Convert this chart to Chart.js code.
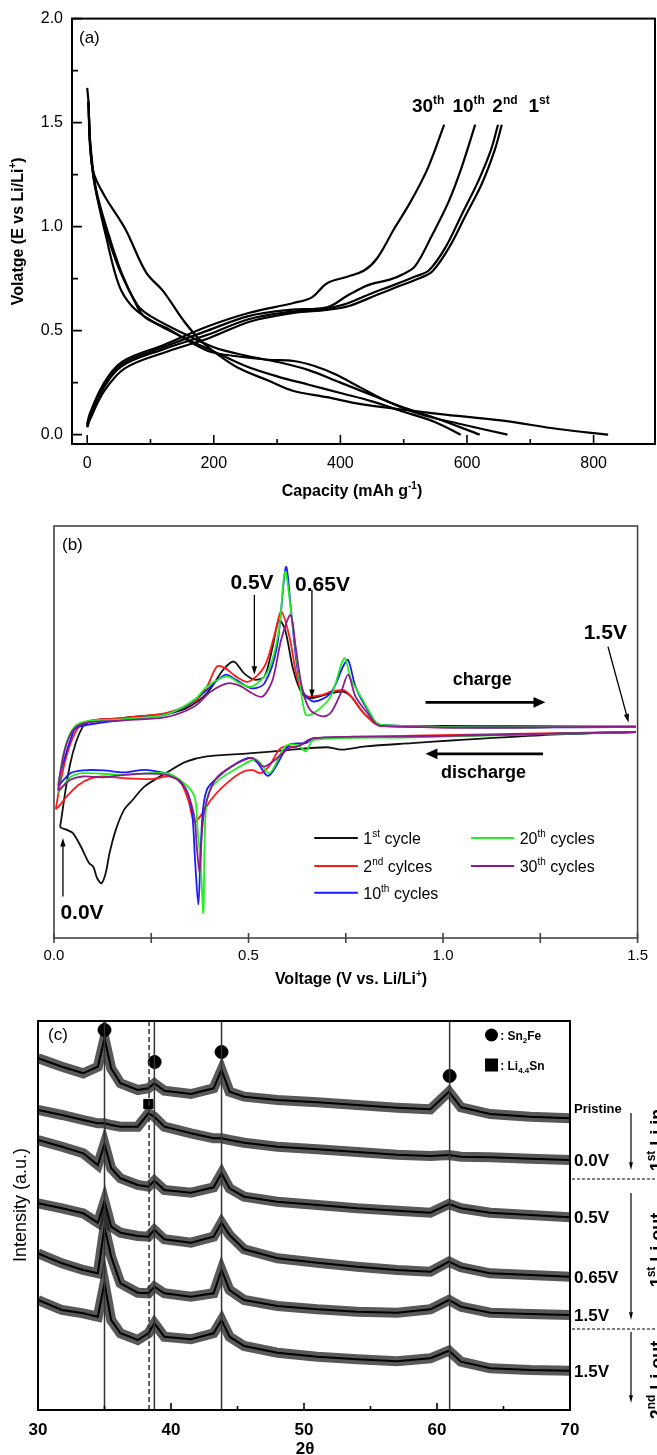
<!DOCTYPE html>
<html>
<head>
<meta charset="utf-8">
<script src="https://cdn.jsdelivr.net/npm/chart.js@4.4.0/dist/chart.umd.min.js"></script>
<style>
  body { margin: 0; background: #fff; width: 657px; height: 1455px; overflow: hidden; position: relative; }
  canvas { position: absolute; left: 0; }
</style>
</head>
<body>
<canvas id="chartA" width="657" height="500" style="top:0"></canvas>
<canvas id="chartB" width="657" height="500" style="top:500px"></canvas>
<canvas id="chartC" width="657" height="455" style="top:1000px"></canvas>
<script>
// ---------- (a) charge / discharge profiles: [capacity mAh/g, voltage V] ----------
const discharge1st = [[0,1.667],[2,1.6],[4,1.41],[10,1.26],[27,1.15],[60,0.99],[93,0.78],[120,0.69],[153,0.545],[180,0.45],[206,0.386],[239,0.32],[286,0.26],[326,0.21],[379,0.18],[432,0.147],[491,0.123],[558,0.099],[657,0.067],[744,0.027],[823,0]];
const discharge2nd = [[2,1.6],[5,1.4],[14,1.18],[34,0.96],[54,0.78],[80,0.61],[93,0.56],[127,0.51],[160,0.45],[193,0.40],[233,0.378],[286,0.36],[326,0.354],[359,0.33],[392,0.29],[432,0.226],[472,0.163],[525,0.099],[591,0.05],[664,0]];
const discharge10th = [[2,1.6],[5,1.38],[12,1.2],[30,0.98],[50,0.8],[80,0.62],[100,0.57],[150,0.49],[200,0.42],[250,0.38],[300,0.35],[350,0.31],[400,0.25],[450,0.19],[500,0.13],[550,0.08],[620,0]];
const discharge30th = [[2,1.6],[5,1.38],[12,1.2],[30,0.95],[50,0.72],[70,0.62],[100,0.55],[150,0.47],[200,0.40],[250,0.33],[300,0.28],[350,0.24],[400,0.2],[450,0.16],[500,0.11],[550,0.06],[590,0]];
const charge1st = [[0,0.035],[4,0.07],[27,0.21],[60,0.32],[127,0.40],[193,0.465],[259,0.545],[326,0.585],[379,0.60],[412,0.617],[458,0.672],[491,0.712],[525,0.752],[545,0.784],[571,0.896],[598,1.055],[624,1.21],[644,1.37],[655,1.49]];
const charge2nd = [[0,0.04],[4,0.08],[25,0.22],[55,0.33],[120,0.41],[190,0.48],[255,0.555],[320,0.59],[375,0.605],[405,0.625],[450,0.68],[485,0.72],[518,0.76],[540,0.79],[566,0.9],[592,1.06],[618,1.22],[638,1.37],[649,1.49]];
const charge10th = [[0,0.045],[4,0.09],[25,0.23],[55,0.34],[120,0.42],[190,0.50],[255,0.57],[320,0.60],[379,0.612],[412,0.67],[445,0.72],[478,0.745],[498,0.77],[518,0.81],[545,0.96],[571,1.12],[591,1.28],[613,1.49]];
const charge30th = [[0,0.05],[4,0.1],[25,0.24],[55,0.35],[120,0.43],[190,0.52],[255,0.585],[326,0.633],[355,0.66],[379,0.728],[412,0.76],[438,0.79],[458,0.848],[485,0.99],[511,1.12],[538,1.28],[564,1.49]];
const cycleTags = [['30','th'],['10','th'],['2','nd'],['1','st']];
const cycleTagCap = [513, 577, 640, 697];
const capTicks = [0, 200, 400, 600, 800];
const capMinor = [100, 300, 500, 700];
const voltTicksA = [0, 0.5, 1.0, 1.5, 2.0];
const voltMinorA = [0.25, 0.75, 1.25, 1.75];

// ---------- (b) differential capacity loops: [voltage V, dQ/dV (a.u.)] ----------
const cycle1 = [[1.496,50.0],[1.25,49.2],[1.03,48.0],[0.92,47.3],[0.80,46.5],[0.74,45.7],[0.70,46.3],[0.6,45.6],[0.50,44.8],[0.393,44.1],[0.34,42.8],[0.287,40.0],[0.233,36.8],[0.202,33.5],[0.180,31.1],[0.159,26.3],[0.143,20.7],[0.133,15.8],[0.122,13.3],[0.111,14.5],[0.101,17.3],[0.090,18.2],[0.069,22.2],[0.048,25.5],[0.032,26.3],[0.016,27.1],
  [0.074,51.3],[0.18,53.4],[0.287,54.4],[0.34,55.8],[0.393,59.4],[0.435,65.1],[0.462,67.1],[0.488,64.3],[0.515,62.7],[0.541,63.5],[0.562,70.7],[0.578,77.2],[0.594,74.8],[0.615,65.1],[0.637,59.4],[0.658,58.2],[0.711,59.4],[0.743,59.8],[0.764,58.6],[0.796,54.6],[0.838,51.7],[1.0,51.5],[1.2,51.4],[1.496,51.3]];
const cycle2 = [[1.496,50.0],[0.923,49.1],[0.668,48.4],[0.626,46.5],[0.584,46.2],[0.552,41.6],[0.531,40.0],[0.509,40.8],[0.478,40.0],[0.435,36.8],[0.403,33.5],[0.382,30.3],[0.361,28.3],[0.345,33.5],[0.324,38.0],[0.297,39.2],[0.255,38.6],[0.18,38.8],[0.127,39.2],[0.096,38.8],[0.064,37.2],[0.037,34.8],[0.005,31.5],
  [0.064,51.3],[0.18,53.4],[0.287,54.6],[0.361,57.4],[0.393,61.0],[0.419,65.9],[0.44,65.5],[0.467,63.5],[0.499,62.2],[0.541,65.9],[0.568,74.0],[0.584,79.2],[0.605,73.2],[0.626,62.7],[0.647,58.8],[0.69,59.0],[0.711,59.8],[0.743,60.2],[0.764,58.6],[0.796,54.6],[0.838,51.5],[1.496,51.3]];
const cycle10 = [[1.496,50.0],[0.923,48.9],[0.668,48.5],[0.647,47.3],[0.605,46.9],[0.552,39.4],[0.52,42.8],[0.499,43.7],[0.456,41.6],[0.414,38.4],[0.393,36.0],[0.382,30.3],[0.376,18.2],[0.371,8.1],[0.363,18.2],[0.355,30.3],[0.34,36.0],[0.308,39.2],[0.287,40.0],[0.233,40.8],[0.18,40.2],[0.127,40.7],[0.074,40.7],[0.042,40.0],[0.011,37.2],
  [0.048,49.7],[0.064,51.3],[0.18,53.0],[0.287,54.2],[0.35,57.0],[0.393,60.2],[0.44,63.9],[0.467,62.7],[0.509,60.6],[0.541,61.8],[0.573,70.7],[0.596,90.0],[0.61,78.8],[0.626,65.1],[0.642,59.4],[0.668,57.4],[0.711,59.4],[0.743,65.9],[0.756,67.5],[0.775,61.0],[0.806,55.4],[0.838,51.7],[1.496,51.2]];
const cycle20 = [[1.496,50.0],[0.923,48.7],[0.668,48.1],[0.647,45.3],[0.626,46.9],[0.594,46.5],[0.554,40.0],[0.52,43.3],[0.478,41.6],[0.414,37.6],[0.393,33.5],[0.387,22.2],[0.384,6.1],[0.377,18.2],[0.369,26.3],[0.361,34.4],[0.329,38.0],[0.287,40.0],[0.18,39.6],[0.074,40.0],[0.042,39.0],[0.011,35.6],
  [0.053,51.3],[0.18,53.1],[0.287,54.2],[0.361,57.8],[0.393,61.0],[0.444,63.5],[0.478,61.8],[0.509,61.0],[0.552,65.1],[0.578,74.8],[0.594,88.9],[0.61,78.8],[0.631,62.7],[0.647,54.2],[0.668,54.6],[0.711,58.6],[0.746,67.9],[0.764,62.7],[0.796,57.4],[0.808,55.4],[0.838,51.7],[1.496,51.3]];
const cycle30 = [[1.496,50.0],[0.923,48.9],[0.668,48.5],[0.626,46.5],[0.605,46.1],[0.541,41.6],[0.509,43.7],[0.456,41.6],[0.414,38.4],[0.387,31.1],[0.378,22.2],[0.374,15.8],[0.367,22.2],[0.359,30.3],[0.329,37.6],[0.287,39.6],[0.233,39.9],[0.18,39.6],[0.127,39.0],[0.074,39.2],[0.042,38.4],[0.011,36.0],
  [0.053,50.9],[0.18,52.8],[0.287,53.6],[0.361,56.2],[0.403,59.8],[0.446,61.8],[0.478,61.2],[0.509,59.4],[0.536,58.6],[0.562,62.7],[0.584,72.4],[0.608,78.4],[0.621,70.7],[0.637,61.0],[0.658,55.4],[0.69,53.8],[0.711,54.6],[0.737,59.4],[0.756,63.9],[0.775,58.6],[0.806,54.6],[0.838,51.5],[1.496,51.3]];
const cycleNames = [[['1',''],['st','sup'],[' cycle','']], [['2',''],['nd','sup'],[' cylces','']], [['10',''],['th','sup'],[' cycles','']], [['20',''],['th','sup'],[' cycles','']], [['30',''],['th','sup'],[' cycles','']]];
const cycleColors = ['#111111', '#ff1a1a', '#1a1aff', '#22ee22', '#8b1c8b'];
const voltTicksB = [0, 0.5, 1.0, 1.5];
const voltMinorB = [0.25, 0.75, 1.25];

// ---------- (c) XRD patterns: 2theta vs intensity (a.u.) ----------
const xrdAngles = [30,31.8,33.4,34.5,35.0,35.5,36.2,37.5,38.3,38.75,39.5,41.5,43.2,43.8,44.4,45.5,48,51,54,57,59.5,60.9,61.8,64,67,70];
const xrdPristine = [351.7,343.3,336.7,343.3,371.7,341.7,326.7,320,321.7,326.7,319.3,316,321.7,340,318.3,313.3,310,307.7,305,302.3,300.7,318.3,302.7,296,293.3,291.7];
const xrd00V = [300,295,290,286.7,286.7,285,283.3,283.3,296.7,293.3,283.3,276.7,271.7,271.7,270,267.3,263.3,260.7,258,255.3,254,255,253.3,252.7,251.3,250];
const xrd05V = [270,263.3,256.7,245,266,241.7,231.7,225,223.3,229.3,220,217.3,222.7,236.7,221.7,213.3,208.3,205,201.7,199.3,197.3,206,201.7,197.3,195,192.7];
const xrd065V = [206.7,201.7,196.7,187.3,208.3,183.3,177.3,174,173.3,180,170.7,167.3,173.3,187.3,175,160.7,151.7,147.3,143.3,140,138.3,148.3,142.7,136.7,135,133.3];
const xrd15V = [156.7,146.7,140,136.7,182.7,153.3,126.7,117.3,116.7,123.3,116.7,113.3,116.7,140,120,110,104,100.7,98.3,97.3,100.7,110,103.3,97.3,96,95];
const xrd15V2 = [110,100,96.7,93.3,126.7,90,76.7,70,76.7,86.7,73.3,70.7,76.7,90,73.3,64,57.3,53.3,50.7,48.7,51.7,59.3,48.3,41.7,40,39.3];
const xrdLabels = ['Pristine', '0.0V', '0.5V', '0.65V', '1.5V', '1.5V'];
const sn2feAngles = [35.0, 38.77, 43.8, 60.95];
const sn2feMarks = [380, 348, 358, 334];
const li44snAngles = [38.3];
const li44snMarks = [306];
const refLines = [35.0, 38.75, 43.8, 60.95];
const refDashed = [38.35];
const thetaTicks = [30, 40, 50, 60, 70];
const thetaMinor = [35, 45, 55, 65];

const FONT = "'Liberation Sans', Arial, Helvetica, sans-serif";
Chart.defaults.font.family = FONT;
Chart.defaults.color = '#000';

function drawRich(ctx, x, y, parts, size, weight, align) {
  let w = 0;
  const items = parts.map(([t, k]) => {
    const s = k ? Math.round(size * 0.64) : size;
    ctx.font = `${weight} ${s}px ${FONT}`;
    const tw = ctx.measureText(t).width;
    w += tw;
    return { t, k, s, tw };
  });
  let cx = align === 'center' ? x - w / 2 : align === 'right' ? x - w : x;
  ctx.textAlign = 'left';
  ctx.textBaseline = 'alphabetic';
  items.forEach(it => {
    ctx.font = `${weight} ${it.s}px ${FONT}`;
    const dy = it.k === 'sup' ? -size * 0.42 : it.k === 'sub' ? size * 0.28 : 0;
    ctx.fillText(it.t, cx, y + dy);
    cx += it.tw;
  });
}

function vText(ctx, x, y, parts, size, weight) {
  ctx.save();
  ctx.translate(x, y);
  ctx.rotate(-Math.PI / 2);
  drawRich(ctx, 0, 0, parts, size, weight, 'center');
  ctx.restore();
}

function arrow(ctx, x1, y1, x2, y2, lw, head, spread) {
  const a = Math.atan2(y2 - y1, x2 - x1);
  ctx.lineWidth = lw;
  ctx.beginPath();
  ctx.moveTo(x1, y1);
  ctx.lineTo(x2 - Math.cos(a) * head * 0.7, y2 - Math.sin(a) * head * 0.7);
  ctx.stroke();
  ctx.beginPath();
  ctx.moveTo(x2, y2);
  ctx.lineTo(x2 - head * Math.cos(a - spread), y2 - head * Math.sin(a - spread));
  ctx.lineTo(x2 - head * Math.cos(a + spread), y2 - head * Math.sin(a + spread));
  ctx.closePath();
  ctx.fill();
}

function tickX(chart, values, len, cross) {
  const { ctx, chartArea: a } = chart, sx = chart.scales.x;
  ctx.beginPath();
  values.forEach(v => {
    const p = sx.getPixelForValue(v);
    ctx.moveTo(p, a.bottom + (cross ? len : 0));
    ctx.lineTo(p, a.bottom - len);
  });
  ctx.stroke();
}

function tickY(chart, values, len) {
  const { ctx, chartArea: a } = chart, sy = chart.scales.y;
  ctx.beginPath();
  values.forEach(v => {
    const p = sy.getPixelForValue(v);
    ctx.moveTo(a.left, p);
    ctx.lineTo(a.left + len, p);
  });
  ctx.stroke();
}

const toXY = arr => arr.map(([x, y]) => ({ x, y }));
const baseOpts = { responsive: false, animation: false, events: [], plugins: { legend: { display: false }, tooltip: { enabled: false } } };
const hiddenGrid = { display: false, drawTicks: false };

// ---------------- chart (a) ----------------
const profiles = [discharge1st, discharge2nd, discharge10th, discharge30th, charge1st, charge2nd, charge10th, charge30th];

new Chart(document.getElementById('chartA'), {
  type: 'line',
  data: {
    datasets: profiles.map(p => ({ data: toXY(p), borderColor: '#000', borderWidth: 2.2, pointRadius: 0, tension: 0.35, fill: false }))
  },
  options: {
    ...baseOpts,
    layout: { padding: { left: 0, right: 2, top: 16, bottom: 0 } },
    scales: {
      x: {
        type: 'linear', min: -24, max: 897,
        grid: hiddenGrid, border: { display: false },
        afterFit: s => { s.height = 56; },
        afterBuildTicks: s => { s.ticks = capTicks.map(v => ({ value: v })); },
        ticks: { padding: 10, font: { size: 16 }, maxRotation: 0, autoSkip: false }
      },
      y: {
        type: 'linear', min: -0.045, max: 2.0,
        grid: hiddenGrid, border: { display: false },
        afterFit: s => { s.width = 72; },
        afterBuildTicks: s => { s.ticks = voltTicksA.map(v => ({ value: v })); },
        ticks: { padding: 9, font: { size: 16 }, callback: v => v.toFixed(1) }
      }
    }
  },
  plugins: [{
    id: 'frameA',
    afterDraw(chart) {
      const { ctx, chartArea: a, scales } = chart;
      ctx.save();
      ctx.strokeStyle = '#000';
      ctx.fillStyle = '#000';
      ctx.lineWidth = 2;
      ctx.strokeRect(a.left, a.top, a.right - a.left, a.bottom - a.top);
      ctx.lineWidth = 1.6;
      tickX(chart, capTicks, 9);
      tickX(chart, capMinor, 5);
      tickY(chart, voltTicksA, 10);
      tickY(chart, voltMinorA, 6);
      ctx.font = `17px ${FONT}`;
      ctx.textAlign = 'left';
      ctx.fillText('(a)', a.left + 7, a.top + 24);
      cycleTags.forEach((tag, i) => {
        drawRich(ctx, scales.x.getPixelForValue(cycleTagCap[i]), scales.y.getPixelForValue(1.553), [[tag[0], ''], [tag[1], 'sup']], 19, 'bold', 'left');
      });
      vText(ctx, 23, (a.top + a.bottom) / 2, [['Volatge (E vs Li/Li', ''], ['+', 'sup'], [')', '']], 16, 'bold');
      drawRich(ctx, 352, 496, [['Capacity (mAh g', ''], ['-1', 'sup'], [')', '']], 16, 'bold', 'center');
      ctx.restore();
    }
  }]
});

// ---------------- chart (b) ----------------
const loops = [cycle1, cycle2, cycle10, cycle20, cycle30];

new Chart(document.getElementById('chartB'), {
  type: 'line',
  data: {
    datasets: loops.map((c, i) => ({ data: toXY(c), borderColor: cycleColors[i], borderWidth: 1.8, pointRadius: 0, tension: 0.3, fill: false, order: 5 - i }))
  },
  options: {
    ...baseOpts,
    layout: { padding: { left: 0, right: 11, top: 26, bottom: 0 } },
    scales: {
      x: {
        type: 'linear', min: 0, max: 1.5,
        grid: hiddenGrid, border: { display: false },
        afterFit: s => { s.height = 62; },
        afterBuildTicks: s => { s.ticks = voltTicksB.map(v => ({ value: v })); },
        ticks: { padding: 9, font: { size: 15 }, maxRotation: 0, autoSkip: false, callback: v => v.toFixed(1) }
      },
      y: {
        type: 'linear', min: 0, max: 100,
        grid: hiddenGrid, border: { display: false },
        afterFit: s => { s.width = 54; },
        ticks: { display: false }
      }
    }
  },
  plugins: [{
    id: 'frameB',
    afterDraw(chart) {
      const { ctx, chartArea: a, scales } = chart;
      const X = v => scales.x.getPixelForValue(v), Y = v => scales.y.getPixelForValue(v);
      ctx.save();
      ctx.strokeStyle = '#444';
      ctx.fillStyle = '#000';
      ctx.lineWidth = 1.6;
      ctx.strokeRect(a.left, a.top, a.right - a.left, a.bottom - a.top);
      tickX(chart, voltTicksB.concat(voltMinorB), 5, true);
      ctx.strokeStyle = '#000';
      ctx.font = `17px ${FONT}`;
      ctx.textAlign = 'left';
      ctx.fillText('(b)', a.left + 8, a.top + 24);
      // peak call-outs
      const notes = [
        ['0.5V', 0.509, 86.5, 0.515, 83.3, 0.515, 63.9],
        ['0.65V', 0.69, 86.1, 0.663, 84.5, 0.663, 58.2],
        ['1.5V', 1.417, 74.4, 1.424, 70.7, 1.477, 52.3],
        ['0.0V', 0.072, 6.5, 0.023, 10.1, 0.023, 24.3]
      ];
      notes.forEach(([t, tx, ty, x1, y1, x2, y2]) => {
        drawRich(ctx, X(tx), Y(ty) + 7.5, [[t, '']], 21, 'bold', 'center');
        arrow(ctx, X(x1), Y(y1), X(x2), Y(y2), 1.3, 9, 0.3);
      });
      drawRich(ctx, X(1.101), Y(62.9) + 6.5, [['charge', '']], 18, 'bold', 'center');
      arrow(ctx, X(0.955), Y(57.2), X(1.263), Y(57.2), 2.8, 13, 0.42);
      drawRich(ctx, X(1.104), Y(40.4) + 6.5, [['discharge', '']], 18, 'bold', 'center');
      arrow(ctx, X(1.257), Y(44.7), X(0.955), Y(44.7), 2.8, 13, 0.42);
      // legend
      const legendCols = [[0.669, 0.781, 0.795], [1.072, 1.183, 1.197]];
      const legendRows = [24.3, 17.5, 11.0];
      cycleNames.forEach((name, i) => {
        const col = legendCols[i < 3 ? 0 : 1], row = legendRows[i < 3 ? i : i - 3];
        ctx.strokeStyle = cycleColors[i];
        ctx.lineWidth = 2;
        ctx.beginPath();
        ctx.moveTo(X(col[0]), Y(row));
        ctx.lineTo(X(col[1]), Y(row));
        ctx.stroke();
        drawRich(ctx, X(col[2]), Y(row) + 6, name, 16, 'normal', 'left');
      });
      vText(ctx, 37, 727, [['dQ/dV(C/gmV)', '']], 16, 'bold');
      drawRich(ctx, 351, 484, [['Voltage (V vs. Li/Li', ''], ['+', 'sup'], [')', '']], 16, 'bold', 'center');
      ctx.restore();
    }
  }]
});

// ---------------- chart (c) ----------------
const patterns = [xrdPristine, xrd00V, xrd05V, xrd065V, xrd15V, xrd15V2];
// each pattern is drawn twice: a dark band standing in for the noise envelope and a black core line
const patternSets = [];
patterns.forEach(p => {
  const pts = xrdAngles.map((x, i) => ({ x, y: p[i] }));
  patternSets.push({ data: pts, borderColor: 'rgba(25,25,25,0.72)', borderWidth: 10, pointRadius: 0, tension: 0, fill: false, order: 3 });
  patternSets.push({ data: pts, borderColor: '#000', borderWidth: 2, pointRadius: 0, tension: 0, fill: false, order: 2 });
});

new Chart(document.getElementById('chartC'), {
  type: 'line',
  data: {
    datasets: [
      { type: 'scatter', data: sn2feAngles.map((x, i) => ({ x, y: sn2feMarks[i] })), pointStyle: 'circle', pointRadius: 6.5, backgroundColor: '#000', borderColor: '#000', order: 0 },
      { type: 'scatter', data: li44snAngles.map((x, i) => ({ x, y: li44snMarks[i] })), pointStyle: 'rect', pointRadius: 6.5, backgroundColor: '#000', borderColor: '#000', order: 0 }
    ].concat(patternSets)
  },
  options: {
    ...baseOpts,
    layout: { padding: { left: 0, right: 87, top: 21, bottom: 0 } },
    scales: {
      x: {
        type: 'linear', min: 30, max: 70,
        grid: hiddenGrid, border: { display: false },
        afterFit: s => { s.height = 45; },
        afterBuildTicks: s => { s.ticks = thetaTicks.map(v => ({ value: v })); },
        ticks: { padding: 10, font: { size: 17, weight: 'bold' }, maxRotation: 0, autoSkip: false }
      },
      y: {
        type: 'linear', min: 0, max: 389,
        grid: hiddenGrid, border: { display: false },
        afterFit: s => { s.width = 38; },
        ticks: { display: false }
      }
    }
  },
  plugins: [{
    id: 'linesC',
    afterDatasetsDraw(chart) {
      const { ctx, chartArea: a, scales } = chart;
      ctx.save();
      ctx.strokeStyle = '#333';
      ctx.lineWidth = 1.5;
      refLines.forEach(v => {
        const p = scales.x.getPixelForValue(v);
        ctx.beginPath(); ctx.moveTo(p, a.bottom); ctx.lineTo(p, a.top); ctx.stroke();
      });
      ctx.setLineDash([5, 3]);
      refDashed.forEach(v => {
        const p = scales.x.getPixelForValue(v);
        ctx.beginPath(); ctx.moveTo(p, a.bottom); ctx.lineTo(p, a.top); ctx.stroke();
      });
      ctx.restore();
    },
    afterDraw(chart) {
      const { ctx, chartArea: a, scales } = chart;
      const X = v => scales.x.getPixelForValue(v), Y = v => scales.y.getPixelForValue(v);
      ctx.save();
      ctx.strokeStyle = '#000';
      ctx.fillStyle = '#000';
      ctx.lineWidth = 2;
      ctx.strokeRect(a.left, a.top, a.right - a.left, a.bottom - a.top);
      ctx.lineWidth = 1.6;
      tickX(chart, thetaTicks, 7);
      tickX(chart, thetaMinor, 4);
      ctx.font = `17px ${FONT}`;
      ctx.textAlign = 'left';
      ctx.fillText('(c)', a.left + 10, a.top + 19);
      // phase key
      ctx.beginPath(); ctx.arc(X(64.1), Y(375), 6.5, 0, Math.PI * 2); ctx.fill();
      ctx.fillRect(X(64.1) - 6.5, Y(345) - 6.5, 13, 13);
      drawRich(ctx, X(64.75), Y(375) + 4.5, [[': Sn', ''], ['2', 'sub'], ['Fe', '']], 12, 'bold', 'left');
      drawRich(ctx, X(64.75), Y(345) + 4.5, [[': Li', ''], ['4.4', 'sub'], ['Sn', '']], 12, 'bold', 'left');
      // state labels at the end of each pattern
      patterns.forEach((p, i) => {
        const y = Y(p[p.length - 1]);
        if (i === 0) drawRich(ctx, a.right + 4, y - 10 + 4.5, [[xrdLabels[i], '']], 13, 'bold', 'left');
        else drawRich(ctx, a.right + 4, y + 6, [[xrdLabels[i], '']], 17, 'bold', 'left');
      });
      // dotted separators and direction arrows
      ctx.setLineDash([3, 2]);
      ctx.lineWidth = 1.2;
      [231, 81].forEach(v => {
        ctx.beginPath(); ctx.moveTo(a.right + 2, Y(v)); ctx.lineTo(657, Y(v)); ctx.stroke();
      });
      ctx.setLineDash([]);
      [[297, 240], [217, 90], [78, 7]].forEach(([y1, y2]) => arrow(ctx, 631, Y(y1), 631, Y(y2), 1.2, 8, 0.25));
      vText(ctx, 663, Y(270), [['1', ''], ['st', 'sup'], [' Li in', '']], 18, 'bold');
      vText(ctx, 663, Y(160), [['1', ''], ['st', 'sup'], [' Li out', '']], 18, 'bold');
      vText(ctx, 663, Y(30), [['2', ''], ['nd', 'sup'], [' Li out', '']], 18, 'bold');
      vText(ctx, 25.5, 1205 - 1000, [['Intensity (a.u.)', '']], 18, 'normal');
      drawRich(ctx, 305, 454, [['2θ', '']], 17, 'bold', 'center');
      ctx.restore();
    }
  }]
});
</script>
</body>
</html>
